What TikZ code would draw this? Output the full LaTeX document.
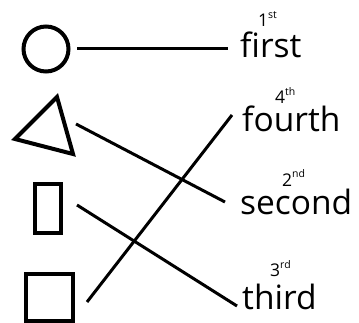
\documentclass[tikz,border=0pt]{standalone}
\usepackage{fontspec}
\setmainfont{Open Sans}
\newcommand\ordmark[2]{{\fontsize{17.5}{20}\selectfont #1}\raisebox{8.5pt}{\fontsize{10.5}{12}\selectfont #2}}
\tikzset{
  shapeline/.style={line width=4pt},
  link/.style={line width=3pt},
  word/.style={anchor=base west, inner sep=0pt, text height=25pt, text depth=7pt, font=\fontsize{33.5}{40}\selectfont},
  ordinal/.style={anchor=base west, inner sep=0pt, text depth=0pt},
}
\begin{document}
\begin{tikzpicture}[x=1pt,y=-1pt]
\useasboundingbox (0,0) rectangle (359,323);
% shapes
\node[shapeline, draw, circle, minimum size=45pt, inner sep=0pt] (circ) at (46,49) {};
\draw[shapeline, line join=miter] (57,97) coordinate (t1) -- (15,139) coordinate (t2) -- (73,154) coordinate (t3) -- cycle;
\node[shapeline, draw, rectangle, minimum width=26pt, minimum height=49pt, inner sep=0pt] (rect) at (48,208.5) {};
\node[shapeline, draw, rectangle, minimum width=47pt, minimum height=46pt, inner sep=0pt] (sq) at (49.5,297.5) {};
% words
\node[word] (first) at (240,58) {first};
\node[word] (fourth) at (242,132) {fourth};
\node[word] (second) at (240,215) {second};
\node[word] (third) at (242,309) {third};
% ordinals
\node[ordinal] (o1) at (258,27) {\ordmark{1}{st}};
\node[ordinal] (o4) at (275,104) {\ordmark{4}{th}};
\node[ordinal] (o2) at (282,186.5) {\ordmark{2}{nd}};
\node[ordinal] (o3) at (270,277) {\ordmark{3}{rd}};
% connector ends
\coordinate (a1) at (77,49);   \coordinate (b1) at (228,49);
\coordinate (a2) at (76,124);  \coordinate (b2) at (225,202);
\coordinate (a3) at (77,205);  \coordinate (b3) at (237,306);
\coordinate (a4) at (87,302);  \coordinate (b4) at (232,115);
\draw[link] (a1) -- (b1);
\draw[link] (a2) -- (b2);
\draw[link] (a3) -- (b3);
\draw[link] (a4) -- (b4);
\end{tikzpicture}
\end{document}
